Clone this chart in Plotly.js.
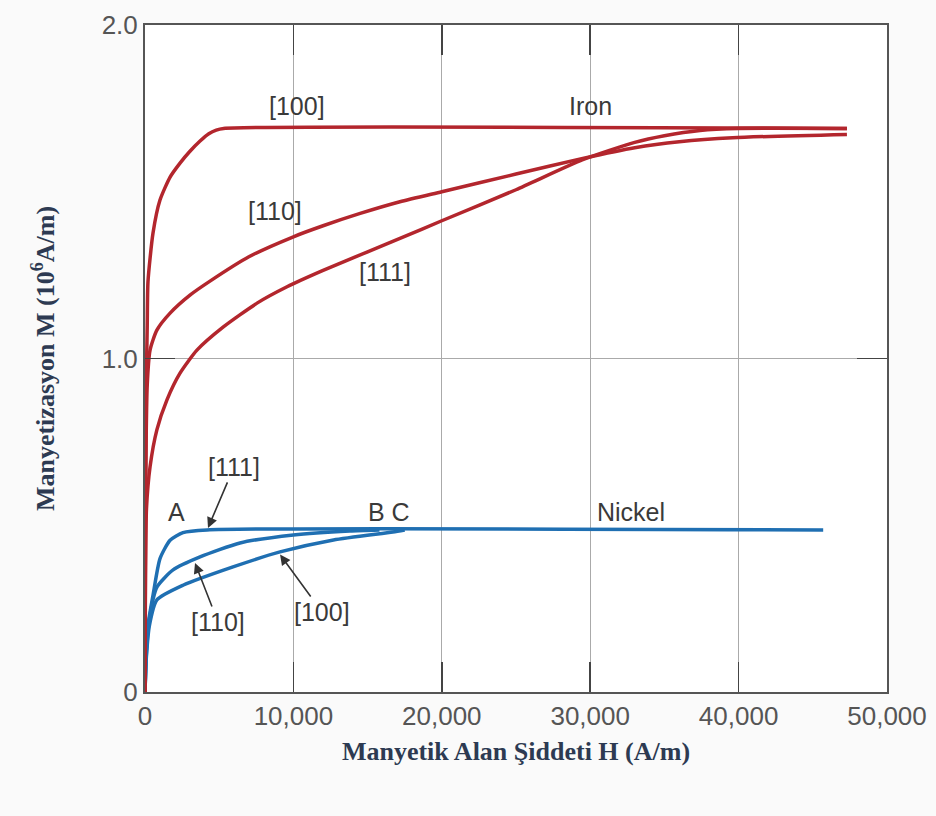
<!DOCTYPE html>
<html>
<head>
<meta charset="utf-8">
<script src="https://cdn.plot.ly/plotly-3.0.1.min.js"></script>
<style>html,body{margin:0;padding:0;background:#fafafa;}#chart{width:936px;height:816px;}</style>
</head>
<body>
<div id="chart"></div>
<script>
// Iron curves (H in A/m, M in 10^6 A/m)
const ironH100 = [0, 30, 80, 150, 200, 540, 1010, 1690, 2360, 3000, 3710, 4300, 4800, 5300, 47300];
const ironM100 = [0, 0.5, 0.9, 1.1, 1.23, 1.376, 1.475, 1.544, 1.586, 1.62, 1.652, 1.674, 1.685, 1.69, 1.69];

const ironH110 = [0, 40, 150, 340, 800, 1690, 3030, 4380, 7000, 10000, 12000, 14500, 17180, 20000, 25000, 29500, 33000, 36000, 39600, 47300];
const ironM110 = [0, 0.6, 0.92, 1.025, 1.085, 1.136, 1.19, 1.232, 1.305, 1.365, 1.398, 1.435, 1.47, 1.50, 1.553, 1.600, 1.632, 1.65, 1.662, 1.672];

const ironH111 = [0, 30, 100, 340, 800, 1480, 2360, 3500, 5260, 7550, 9570, 12000, 15000, 17180, 20000, 25000, 29500, 33000, 35000, 37400, 40000, 47300];
const ironM111 = [0, 0.35, 0.55, 0.675, 0.786, 0.876, 0.956, 1.025, 1.094, 1.166, 1.215, 1.264, 1.32, 1.36, 1.413, 1.506, 1.596, 1.648, 1.668, 1.684, 1.69, 1.69];

// Nickel curves
const nickelH111 = [0, 80, 200, 540, 1010, 1690, 2560, 4180, 45700];
const nickelM111 = [0, 0.12, 0.2, 0.29, 0.40, 0.455, 0.478, 0.486, 0.486];

const nickelH110 = [0, 100, 300, 810, 1890, 3710, 6400, 10000, 13800, 15800];
const nickelM110 = [0, 0.12, 0.22, 0.315, 0.366, 0.405, 0.447, 0.471, 0.483, 0.486];

const nickelH100 = [0, 100, 300, 800, 2560, 5930, 9100, 12700, 16700, 17500];
const nickelM100 = [0, 0.11, 0.2, 0.276, 0.32, 0.375, 0.42, 0.456, 0.48, 0.486];

// Axis ticks
const xTickVals = [0, 10000, 20000, 30000, 40000, 50000];
const xTickText = ['0', '10,000', '20,000', '30,000', '40,000', '50,000'];
const yTickVals = [0, 1, 2];
const yTickText = ['0', '1.0', '2.0'];

// Plain text labels
const labelTexts = ['[100]', 'Iron', '[110]', '[111]', 'A', 'B C', 'Nickel'];
const labelH = [10240, 30050, 8760, 16170, 2090, 16440, 32750];
const labelM = [1.757, 1.757, 1.442, 1.259, 0.54, 0.54, 0.54];

// Labels with arrows: label position -> arrow head
const arrowTexts = ['[111]', '[110]', '[100]'];
const arrowLabelH = [6000, 4920, 11930];
const arrowLabelM = [0.675, 0.21, 0.24];
const arrowHeadH = [4245, 3370, 9100];
const arrowHeadM = [0.492, 0.387, 0.412];

const RED = '#b3262d';
const BLUE = '#1f6fb2';

function curve(x, y, color) {
  return {x: x, y: y, type: 'scatter', mode: 'lines', line: {color: color, width: 3.5, shape: 'spline', smoothing: 0.6}, hoverinfo: 'skip', showlegend: false};
}

const data = [
  curve(nickelH100, nickelM100, BLUE),
  curve(nickelH110, nickelM110, BLUE),
  curve(nickelH111, nickelM111, BLUE),
  curve(ironH111, ironM111, RED),
  curve(ironH110, ironM110, RED),
  curve(ironH100, ironM100, RED)
];

const annFont = {family: 'Liberation Sans, Arial, sans-serif', size: 25, color: '#3a3a3a'};
const annotations = labelTexts.map((t, i) => ({
  x: labelH[i], y: labelM[i], xref: 'x', yref: 'y', text: t, showarrow: false,
  font: annFont, xanchor: 'center', yanchor: 'middle'
}));
for (let i = 0; i < arrowTexts.length; i++) {
  annotations.push({
    x: arrowHeadH[i], y: arrowHeadM[i], xref: 'x', yref: 'y',
    ax: arrowLabelH[i], ay: arrowLabelM[i], axref: 'x', ayref: 'y',
    text: arrowTexts[i], font: annFont, borderpad: 1,
    showarrow: true, arrowhead: 2, arrowsize: 1.3, arrowwidth: 1.6, arrowcolor: '#333'
  });
}

const tickFont = {family: 'Liberation Sans, Arial, sans-serif', size: 26, color: '#555'};
const titleFont = {family: 'Liberation Serif, Times New Roman, serif', size: 26, color: '#2d3a52'};

const layout = {
  width: 936, height: 816,
  margin: {l: 145, r: 49, t: 25, b: 124},
  paper_bgcolor: '#fafafa',
  plot_bgcolor: '#ffffff',
  showlegend: false,
  xaxis: {
    range: [0, 50000], tickvals: xTickVals, ticktext: xTickText,
    ticks: 'inside', ticklen: 30, tickwidth: 1.5, tickcolor: '#444',
    showline: true, linecolor: '#555', linewidth: 2, mirror: 'ticks',
    showgrid: true, gridcolor: '#aaaaaa', gridwidth: 1, zeroline: false,
    tickfont: tickFont,
    title: {text: '<b>Manyetik Alan Şiddeti H (A/m)</b>', font: titleFont, standoff: 12}
  },
  yaxis: {
    range: [0, 2], tickvals: yTickVals, ticktext: yTickText,
    ticks: 'inside', ticklen: 30, tickwidth: 1.5, tickcolor: '#444',
    showline: true, linecolor: '#555', linewidth: 2, mirror: 'ticks',
    showgrid: true, gridcolor: '#aaaaaa', gridwidth: 1, zeroline: false,
    tickfont: tickFont,
    title: {text: '<b>Manyetizasyon M (10<sup>6</sup>A/m)</b>', font: titleFont, standoff: 40}
  },
  annotations: annotations
};

Plotly.newPlot('chart', data, layout, {displayModeBar: false, staticPlot: true});
</script>
</body>
</html>
